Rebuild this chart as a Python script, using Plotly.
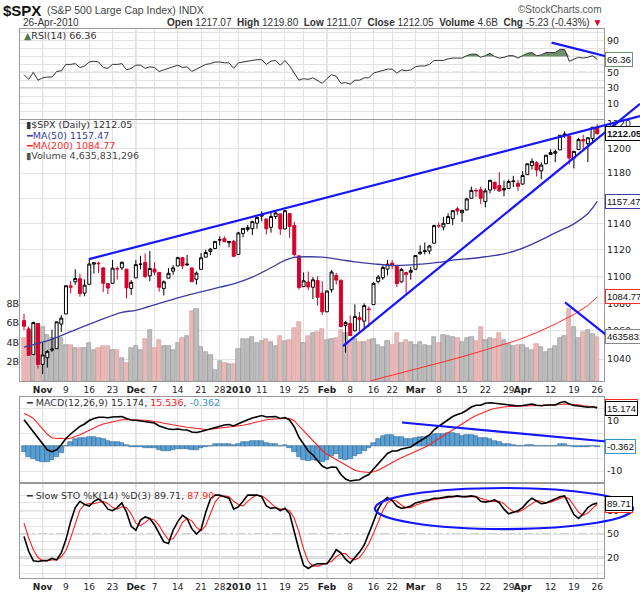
import numpy as np
import pandas as pd
import plotly.graph_objects as go

# $SPX daily, 27-Oct-2009 .. 26-Apr-2010
HOLIDAYS = ["2009-11-26", "2009-12-25", "2010-01-01", "2010-01-18", "2010-02-15", "2010-04-02"]
DATES = [d for d in pd.bdate_range("2009-10-27", "2010-04-26") if d.strftime("%Y-%m-%d") not in HOLIDAYS]
PRIOR_CLOSE = 1066.95

OPEN = [1067.54, 1061.51, 1043.19, 1065.41,
        1036.18, 1040.92, 1047.14, 1047.30, 1064.95, 1072.31, 1091.86, 1096.04, 1098.31, 1087.59,
        1094.13, 1109.22, 1109.44, 1106.44, 1094.66, 1094.86, 1105.83, 1106.49, 1105.47, 1091.07,
        1098.89, 1109.03, 1110.59, 1100.43, 1105.52, 1103.04, 1091.07, 1098.69, 1103.96, 1107.84, 1114.11,
        1108.61, 1106.36, 1097.86, 1105.31, 1114.51, 1118.84, 1121.08, 1127.53, 1128.55, 1125.53, 1126.60,
        1116.56, 1132.66, 1135.71, 1136.27, 1140.52, 1145.96, 1143.81, 1137.31, 1145.68, 1147.72,
        1136.03, 1147.95, 1138.68, 1115.49, 1092.40, 1095.80, 1091.94, 1096.93, 1087.61,
        1073.89, 1090.05, 1100.67, 1097.25, 1064.12, 1065.51, 1060.06, 1069.68, 1067.10, 1075.95,
        1079.13, 1096.14, 1099.03, 1105.49, 1110.00, 1107.49, 1095.89, 1101.24, 1103.10,
        1105.36, 1117.01, 1119.36, 1119.12, 1125.12, 1138.40, 1137.56, 1140.22, 1143.96, 1151.71, 1148.53,
        1150.83, 1159.94, 1166.13, 1166.68, 1157.25, 1166.47, 1172.70, 1170.03, 1167.58, 1167.71, 1173.75, 1171.75,
        1171.23, 1178.71, 1186.01, 1188.23, 1181.75, 1187.47, 1194.94, 1195.94, 1198.69, 1210.77, 1210.17,
        1192.06, 1199.04, 1207.16, 1203.79, 1207.87, 1217.07]
HIGH = [1072.48, 1063.26, 1066.83, 1065.41,
        1052.18, 1046.36, 1061.00, 1066.65, 1071.48, 1093.19, 1096.42, 1105.37, 1101.97, 1097.79,
        1113.69, 1110.52, 1111.10, 1106.44, 1094.66, 1112.38, 1107.56, 1111.18, 1105.47, 1097.24,
        1112.28, 1115.58, 1117.28, 1119.13, 1110.72, 1103.04, 1097.04, 1106.25, 1108.50, 1114.76, 1114.11,
        1116.21, 1106.36, 1103.74, 1117.68, 1120.27, 1121.58, 1126.48, 1130.38, 1130.38, 1126.42, 1127.64,
        1133.87, 1136.63, 1139.19, 1142.46, 1145.39, 1149.74, 1143.81, 1148.40, 1150.41, 1147.77,
        1150.45, 1147.95, 1141.58, 1115.49, 1102.97, 1103.69, 1099.51, 1100.22, 1096.45,
        1089.38, 1104.73, 1102.72, 1097.25, 1067.13, 1071.20, 1079.28, 1073.67, 1080.04, 1077.81,
        1095.67, 1101.03, 1108.24, 1112.42, 1112.29, 1108.58, 1106.42, 1103.50, 1107.24,
        1116.11, 1123.46, 1125.64, 1123.73, 1139.38, 1141.05, 1145.37, 1148.26, 1150.24, 1153.41, 1150.98,
        1160.28, 1169.20, 1167.77, 1169.20, 1167.82, 1174.72, 1173.04, 1180.69, 1173.93, 1174.85, 1177.83, 1174.56,
        1181.43, 1187.73, 1191.80, 1189.60, 1188.55, 1194.66, 1199.20, 1199.04, 1210.65, 1213.92, 1210.17,
        1197.87, 1208.58, 1210.99, 1208.84, 1217.28, 1219.80]
LOW = [1060.62, 1042.19, 1043.19, 1033.38,
       1029.38, 1033.94, 1045.15, 1047.30, 1059.32, 1072.31, 1087.40, 1093.81, 1084.90, 1085.33,
       1094.13, 1102.19, 1102.70, 1088.40, 1086.81, 1094.86, 1097.63, 1104.75, 1083.74, 1086.25,
       1098.89, 1105.29, 1098.74, 1096.52, 1100.83, 1088.61, 1085.89, 1098.69, 1101.34, 1107.84, 1105.35,
       1107.96, 1095.88, 1093.88, 1105.31, 1114.51, 1116.00, 1121.08, 1123.51, 1126.08, 1121.94, 1114.81,
       1116.56, 1129.66, 1133.95, 1131.32, 1136.22, 1142.02, 1131.77, 1133.18, 1143.80, 1131.39,
       1135.77, 1129.25, 1114.84, 1090.18, 1092.40, 1089.86, 1083.11, 1078.46, 1071.59,
       1073.89, 1087.96, 1093.97, 1062.78, 1044.50, 1056.51, 1060.06, 1059.34, 1060.59, 1062.97,
       1079.13, 1094.72, 1097.48, 1100.80, 1105.38, 1092.18, 1095.50, 1086.02, 1097.56,
       1105.36, 1116.51, 1116.58, 1116.66, 1125.12, 1136.77, 1134.90, 1140.09, 1138.99, 1146.97, 1141.45,
       1150.35, 1159.94, 1161.16, 1155.33, 1152.88, 1163.83, 1166.01, 1165.09, 1161.48, 1167.71, 1168.92, 1165.77,
       1170.69, 1178.71, 1182.77, 1177.25, 1175.12, 1187.15, 1194.71, 1188.82, 1198.69, 1208.50, 1186.77,
       1183.68, 1199.04, 1198.85, 1188.92, 1205.10, 1211.07]
CLOSE = [1063.41, 1042.63, 1066.11, 1036.19,
         1042.88, 1045.41, 1046.50, 1066.63, 1069.30, 1093.08, 1093.01, 1098.51, 1087.24, 1093.48,
         1109.30, 1110.32, 1109.80, 1094.90, 1091.38, 1106.24, 1105.65, 1110.63, 1091.49, 1095.63,
         1108.86, 1109.24, 1099.92, 1105.98, 1103.25, 1091.94, 1095.95, 1102.35, 1106.41, 1114.11, 1107.93,
         1109.18, 1096.08, 1102.47, 1114.05, 1118.02, 1120.59, 1126.48, 1127.78, 1126.20, 1126.42, 1115.10,
         1132.99, 1136.52, 1137.14, 1141.69, 1144.98, 1146.98, 1136.22, 1145.68, 1148.46, 1136.03,
         1150.23, 1138.04, 1116.48, 1091.76, 1096.78, 1092.17, 1097.50, 1084.53, 1073.87,
         1089.19, 1103.32, 1097.28, 1063.11, 1066.19, 1056.74, 1070.52, 1068.13, 1078.47, 1075.51,
         1094.87, 1099.51, 1106.75, 1109.17, 1108.01, 1094.60, 1105.24, 1102.94, 1104.49,
         1115.71, 1118.31, 1118.79, 1122.97, 1138.70, 1138.50, 1140.45, 1145.61, 1150.24, 1149.99, 1150.51,
         1159.46, 1166.21, 1165.83, 1159.90, 1165.81, 1174.17, 1167.72, 1165.73, 1166.59, 1173.22, 1173.27, 1169.43,
         1178.10, 1187.44, 1189.44, 1182.45, 1186.44, 1194.37, 1196.48, 1197.30, 1210.65, 1211.67, 1192.13,
         1197.52, 1207.17, 1205.94, 1208.67, 1217.28, 1212.05]
VOLUME_B = [4.4, 5.2, 5.0, 5.9,
            5.6, 4.8, 4.5, 4.4, 4.4, 3.7, 3.7, 3.4, 3.4, 3.4, 3.9, 3.2, 3.4, 3.6, 3.6, 3.2, 3.2, 2.4, 1.9, 3.4,
            3.6, 3.2, 4.3, 5.3, 3.4, 4.2, 3.6, 3.6, 3.2, 3.9, 4.5, 4.7, 7.2, 7.4, 3.5, 3.0, 2.7, 1.1, 2.1, 1.9, 1.8, 1.8,
            3.3, 4.3, 4.3, 4.6, 3.9, 4.1, 4.3, 4.0, 3.6, 4.7, 4.1, 4.2, 5.5, 6.1, 3.9, 4.7, 5.0, 5.1, 5.4,
            4.2, 4.3, 4.4, 5.3, 5.0, 4.0, 4.3, 4.0, 4.0, 4.2, 4.3, 3.7, 3.5, 4.1, 3.7, 5.0, 3.9, 4.2, 4.0,
            3.7, 4.0, 3.7, 3.6, 4.6, 3.9, 4.8, 4.7, 4.6, 4.4, 4.0, 4.5, 4.6, 4.1, 5.6, 4.2, 4.4, 4.3, 5.0, 4.2,
            3.8, 3.6, 3.7,
            3.7, 3.4, 3.2, 3.8, 3.5, 3.0, 3.3, 3.6, 4.5, 4.7, 7.4, 5.6, 4.4, 5.1, 5.3, 4.9, 4.6]
VOLUME_LAST = 4635831296

MA50_X = [0, 6, 10, 16, 21, 24, 29, 32, 35, 38, 42, 45, 49, 53, 56, 58, 61, 64, 68, 71, 75, 78,
          82, 85, 89, 92, 96, 99, 103, 106, 110, 114, 118, 121, 123]
MA50_Y = [1048.5, 1054.0, 1059.5, 1067.5, 1073.5, 1075.0, 1080.0, 1083.0, 1086.0, 1088.5, 1092.0,
          1094.5, 1099.5, 1106.5, 1112.0, 1114.3, 1114.8, 1114.5, 1112.5, 1111.0, 1109.5, 1108.5,
          1108.5, 1109.2, 1110.5, 1112.2, 1113.5, 1114.8, 1117.0, 1120.0, 1126.0, 1133.0, 1140.0,
          1148.0, 1157.47]
MA200_X = [70, 75, 80, 85, 90, 95, 100, 106, 110, 114, 118, 121, 123]
MA200_Y = [1019.5, 1025.3, 1029.5, 1033.5, 1038.0, 1042.5, 1047.5, 1053.5, 1058.8, 1065.0,
           1072.0, 1078.5, 1084.77]

RSI = [47, 41, 50, 40, 43, 44, 44, 51, 52, 60, 60, 61, 56, 58, 63, 64, 63, 56, 55, 60, 60, 61, 53, 55,
       59, 59, 55, 57, 56, 51, 53, 55, 56, 59, 56, 57, 51, 54, 58, 60, 61, 63, 63, 62, 62, 55,
       62, 63, 64, 65, 66, 66, 60, 64, 65, 59, 65, 58, 49, 40, 42, 41, 43, 39, 36,
       42, 47, 45, 36, 37, 35, 40, 40, 43, 43, 49, 51, 53, 54, 54, 49, 53, 52, 53,
       57, 58, 58, 60, 65, 65, 65, 67, 68, 68, 68, 71, 73, 73, 69, 71, 74, 70, 68, 69, 71, 71, 68,
       71, 74, 75, 71, 72, 75, 75, 75, 79, 79, 64, 66, 69, 68, 69, 71, 66.36]

MACD = [10.5, 8.0, 6.0, 3.0, 0.5, -1.5, -2.3, -1.5, 0.5, 3.0, 4.8, 6.5, 7.8, 8.8, 10.2, 11.0, 11.5,
        11.5, 11.3, 11.6, 11.8, 11.8, 11.0, 10.4, 10.3, 10.0, 9.6, 9.5, 9.2, 8.0, 7.3, 6.8, 6.6, 6.8,
        6.5, 6.4, 5.6, 5.4, 5.8, 6.3, 6.9, 7.6, 8.1, 8.4, 8.6, 8.0, 8.9, 9.8, 10.5, 11.2, 11.8, 12.2,
        11.6, 11.6, 11.8, 11.0, 11.4, 10.4, 7.6, 3.5, 0.6, -2.0, -3.6, -5.8, -8.0, -9.0, -8.4, -8.5,
        -11.4, -13.2, -14.0, -13.7, -13.5, -12.3, -11.4, -9.2, -7.0, -4.8, -3.0, -2.0, -2.0, -1.2,
        -0.9, -0.4, 0.9, 2.2, 3.2, 4.4, 6.5, 7.9, 9.2, 10.5, 11.8, 12.6, 13.2, 14.3, 15.6, 16.3, 16.3,
        17.1, 17.3, 17.1, 16.9, 16.6, 16.6, 16.5, 16.0, 16.2, 16.5, 16.8, 16.3, 16.1, 16.4, 16.5,
        16.4, 17.3, 17.8, 16.8, 16.2, 16.0, 15.7, 15.5, 15.7, 15.174]
SIGNAL = [13.0, 12.2, 11.0, 9.0, 6.8, 4.7, 3.3, 3.0, 3.1, 2.8, 3.1, 3.7, 4.5, 5.4, 6.4, 7.3, 8.1,
          8.8, 9.3, 9.8, 10.2, 10.5, 10.6, 10.6, 10.5, 10.4, 10.3, 10.1, 9.9, 9.5, 9.1, 8.7, 8.3, 8.0,
          7.8, 7.5, 7.2, 6.9, 6.7, 6.6, 6.7, 6.9, 7.1, 7.4, 7.6, 7.7, 7.9, 8.3, 8.7, 9.2, 9.7, 10.2,
          10.5, 10.7, 10.9, 11.0, 11.1, 11.0, 10.1, 8.0, 6.0, 4.0, 2.0, 0.2, -1.8, -3.3, -4.4, -5.2,
          -6.4, -7.6, -8.8, -9.7, -10.2, -10.4, -10.6, -10.3, -9.7, -8.7, -7.6, -6.5, -5.6, -4.7,
          -3.9, -3.2, -2.4, -1.4, -0.5, 0.5, 1.7, 2.9, 4.2, 5.4, 6.7, 7.9, 9.0, 10.0, 11.2, 12.2, 13.0,
          13.8, 14.5, 15.0, 15.4, 15.6, 15.8, 15.9, 16.0, 16.0, 16.1, 16.2, 16.2, 16.2, 16.3, 16.3,
          16.3, 16.6, 16.8, 16.8, 16.7, 16.5, 16.1, 15.8, 15.7, 15.536]
HIST = [-2.5, -4.2, -5.0, -6.0, -6.3, -6.2, -5.6, -4.5, -2.6, 0.2, 1.7, 2.8, 3.3, 3.4, 3.8, 3.7, 3.4,
        2.7, 2.0, 1.8, 1.6, 1.3, 0.4, -0.2, -0.2, -0.4, -0.7, -0.6, -0.7, -1.5, -1.8, -1.9, -1.7, -1.2,
        -1.3, -1.1, -1.6, -1.5, -0.9, -0.3, 0.2, 0.7, 1.0, 1.0, 1.0, 0.3, 1.0, 1.5, 1.8, 2.0, 2.1, 2.0,
        1.1, 0.9, 0.9, 0.0, 0.3, -0.6, -2.5, -4.5, -5.4, -6.0, -5.6, -6.0, -6.2, -5.7, -4.0, -3.3,
        -5.0, -5.6, -5.2, -4.0, -3.3, -1.9, -0.8, 1.1, 2.7, 3.9, 4.6, 4.5, 3.6, 3.5, 3.0, 2.8, 3.3,
        3.6, 3.7, 3.9, 4.8, 5.0, 5.0, 5.1, 5.1, 4.7, 4.2, 4.3, 4.4, 4.1, 3.3, 3.3, 2.8, 2.1, 1.5, 1.0,
        0.8, 0.6, 0.0, 0.2, 0.4, 0.6, 0.1, -0.1, 0.1, 0.2, 0.1, 0.7, 1.0, 0.0, -0.5, -0.5, -0.4, -0.3,
        0.0, -0.362]

STO_K = [47, 28, 16, 15, 16, 16, 19, 17, 26, 43, 66, 84, 92, 88, 86, 92, 95, 90, 82, 80, 84, 90, 78, 60,
         55, 68, 72, 70, 62, 50, 40, 38, 55, 66, 74, 70, 57, 50, 56, 78, 95, 100, 100, 98, 96, 82,
         85, 92, 100, 100, 100, 98, 86, 83, 84, 80, 83, 76, 52, 30, 10, 6, 10, 12, 12,
         12, 20, 30, 26, 18, 13, 20, 27, 36, 50, 66, 82, 92, 97, 93, 86, 83, 84, 86,
         90, 92, 93, 94, 96, 96, 97, 98, 98, 99, 98, 98, 99, 98, 92, 91, 92, 94, 90, 82, 76, 78, 80,
         84, 91, 96, 92, 89, 90, 93, 96, 98, 99, 88, 75, 70, 76, 84, 88, 89.71]
STO_D = [64, 45, 30, 20, 16, 16, 17, 17, 21, 29, 45, 64, 81, 88, 89, 89, 91, 92, 89, 84, 82, 85, 84, 76,
         64, 61, 65, 70, 68, 61, 51, 43, 44, 53, 65, 70, 67, 59, 54, 61, 76, 91, 98, 99, 98, 92,
         88, 86, 92, 97, 100, 99, 95, 89, 84, 82, 82, 80, 70, 53, 31, 15, 9, 9, 11,
         12, 15, 21, 25, 25, 19, 17, 20, 28, 38, 51, 66, 80, 90, 94, 92, 87, 84, 84,
         87, 89, 92, 93, 94, 95, 96, 97, 98, 98, 98, 98, 98, 98, 96, 94, 92, 92, 92, 89, 83, 79, 78,
         81, 85, 90, 93, 92, 90, 91, 93, 96, 98, 95, 87, 78, 74, 77, 83, 87.90]

TICK_DATES = ["2009-11-02", "2009-11-09", "2009-11-16", "2009-11-23", "2009-12-01", "2009-12-07",
              "2009-12-14", "2009-12-21", "2009-12-28", "2010-01-04", "2010-01-11", "2010-01-19",
              "2010-01-25", "2010-02-01", "2010-02-08", "2010-02-16", "2010-02-22", "2010-03-01",
              "2010-03-08", "2010-03-15", "2010-03-22", "2010-03-29", "2010-04-01", "2010-04-12",
              "2010-04-19", "2010-04-26"]
TICK_TEXT = ["Nov", "9", "16", "23", "Dec", "7", "14", "21", "28", "2010", "11", "19", "25", "Feb",
             "8", "16", "22", "Mar", "8", "15", "22", "29", "Apr", "12", "19", "26"]
MONTH_LABELS = {"Nov", "Dec", "2010", "Feb", "Mar", "Apr"}

# hand-drawn trendlines: (x0 idx, v0, x1 idx, v1)
PRICE_LINES = [(13.95, 1113.0, 132.2, 1226.6), (68.45, 1049.2, 132.2, 1236.8)]
VOLUME_LINE = (116.1, 8.13, 126.4, 4.2)
RSI_LINE = (113.2, 87.5, 129.6, 63.4)
MACD_LINE = (81.1, 9.4, 126.2, 1.6)
STO_ELLIPSE = (75.3, 56.5, 130.7, 109.1)

# ---- layout geometry
W, H = 640, 592
ML, MR, MT, MB = 20, 36, 29, 14
PW, PH = W - ML - MR, H - MT - MB
PANELS = {"rsi": (29, 119), "main": (120, 381), "macd": (397, 482), "sto": (484, 578)}
XR = [-0.86, 124.46]
RSI_R = [-9.1, 104.8]
MACD_R = [-14.4, 19.6]
STO_R = [-6.2, 114.2]
PRICE_R = [1024.6, 1223.3]
VOL_R = [0, 27.0]

RED = "#d8002a"
BLUE = "#1515ff"
FONT = "DejaVu Sans"


def dom(name):
    top, bot = PANELS[name]
    return [(H - MB - bot) / PH, (H - MB - top) / PH]


def px(x):
    return (x - ML) / PW


def py(y):
    return (H - MB - y) / PH


def fx(i):
    return (i - XR[0]) / (XR[1] - XR[0])


def flin(v, r):
    return (v - r[0]) / (r[1] - r[0])


def flog(p):
    lo, hi = np.log10(PRICE_R)
    return (np.log10(p) - lo) / (hi - lo)


x = np.arange(len(CLOSE))
date_str = [d.strftime("%Y-%m-%d") for d in DATES]
tick_pos = [date_str.index(d) for d in TICK_DATES]
tick_txt = [f"<b>{t}</b>" if t in MONTH_LABELS else t for t in TICK_TEXT]
month_pos = [p for p, t in zip(tick_pos, TICK_TEXT) if t in MONTH_LABELS]

op, hi, lo, cl = map(np.array, (OPEN, HIGH, LOW, CLOSE))
prev = np.r_[PRIOR_CLOSE, cl[:-1]]
up = cl >= prev

fig = go.Figure()

# RSI panel
fig.add_trace(go.Scatter(x=x, y=[70] * len(x), mode="lines", line=dict(width=0),
                         xaxis="x", yaxis="y", hoverinfo="skip"))
fig.add_trace(go.Scatter(x=x, y=np.maximum(RSI, 70), mode="lines", line=dict(width=0),
                         fill="tonexty", fillcolor="#6e906e", xaxis="x", yaxis="y", hoverinfo="skip"))
fig.add_trace(go.Scatter(x=x, y=RSI, mode="lines", line=dict(color="#333333", width=1),
                         xaxis="x", yaxis="y", hoverinfo="skip"))

# volume (base axis y2) under the price (overlay y5)
vcol = np.where(up, "#bdbdbd", "#ebb7b7")
vline = np.where(up, "#8f8f8f", "#d49a9a")
fig.add_trace(go.Bar(x=x, y=VOLUME_B, width=0.92, marker=dict(color=vcol, line=dict(color=vline, width=0.6)),
                     xaxis="x2", yaxis="y2", hoverinfo="skip"))

fig.add_trace(go.Scatter(x=MA200_X, y=MA200_Y, mode="lines", line=dict(color="#ff2a2a", width=1),
                         xaxis="x2", yaxis="y5", hoverinfo="skip"))
fig.add_trace(go.Scatter(x=MA50_X, y=MA50_Y, mode="lines", line=dict(color="#3c3ca0", width=1.3, shape="spline"),
                         xaxis="x2", yaxis="y5", hoverinfo="skip"))

for mask, col in [(up, "#000000"), (~up, RED)]:
    fig.add_trace(go.Candlestick(
        x=x[mask], open=op[mask], high=hi[mask], low=lo[mask], close=cl[mask],
        increasing=dict(line=dict(color=col, width=1), fillcolor="white"),
        decreasing=dict(line=dict(color=col, width=1), fillcolor=col),
        whiskerwidth=0, xaxis="x2", yaxis="y5", hoverinfo="skip"))

# MACD panel
fig.add_trace(go.Bar(x=x, y=HIST, width=1.0, marker=dict(color="#5b9ed2", line=dict(color="#2f6a98", width=0.6)),
                     xaxis="x3", yaxis="y3", hoverinfo="skip"))
fig.add_trace(go.Scatter(x=x, y=SIGNAL, mode="lines", line=dict(color="#ff2020", width=1.1),
                         xaxis="x3", yaxis="y3", hoverinfo="skip"))
fig.add_trace(go.Scatter(x=x, y=MACD, mode="lines", line=dict(color="#000000", width=1.6),
                         xaxis="x3", yaxis="y3", hoverinfo="skip"))

# Slow stochastic panel
fig.add_trace(go.Scatter(x=x, y=STO_D, mode="lines", line=dict(color="#ff2020", width=1.1),
                         xaxis="x4", yaxis="y4", hoverinfo="skip"))
fig.add_trace(go.Scatter(x=x, y=STO_K, mode="lines", line=dict(color="#000000", width=1.6),
                         xaxis="x4", yaxis="y4", hoverinfo="skip"))

tickfont = dict(family=FONT, size=9.5, color="#222222")
xbase = dict(range=XR, tickvals=tick_pos, ticktext=tick_txt, showgrid=True, gridcolor="#e3e3e3",
             zeroline=False, showline=True, linecolor="#999999", mirror=True, ticks="",
             tickfont=dict(family=FONT, size=9, color="#222222"), tickangle=0, automargin=False)
ybase = dict(side="right", showgrid=True, gridcolor="#e3e3e3", zeroline=False, showline=True,
             linecolor="#999999", mirror=True, ticks="", tickfont=tickfont, automargin=False)

layout = dict(
    width=W, height=H, margin=dict(l=ML, r=MR, t=MT, b=MB, autoexpand=False),
    paper_bgcolor="white", plot_bgcolor="white", showlegend=False,
    boxgap=0.2, boxgroupgap=0.2, bargap=0,
    xaxis=dict(xbase, anchor="y", showticklabels=False),
    xaxis2=dict(xbase, anchor="y2", showticklabels=True, rangeslider=dict(visible=False)),
    xaxis3=dict(xbase, anchor="y3", showticklabels=False),
    xaxis4=dict(xbase, anchor="y4", showticklabels=True),
    yaxis=dict(ybase, domain=dom("rsi"), anchor="x", range=RSI_R,
               tickvals=list(range(0, 101, 10)),
               ticktext=["", "10", "", "30", "", "50", "", "70", "", "90", ""]),
    yaxis2=dict(domain=dom("main"), anchor="x2", range=VOL_R, side="left", showgrid=False,
                zeroline=False, showline=False, ticks="", tickfont=tickfont, automargin=False,
                tickvals=[2, 4, 6, 8], ticktext=["2B", "4B", "6B", "8B"]),
    yaxis5=dict(ybase, overlaying="y2", anchor="x2", type="log", range=list(np.log10(PRICE_R)),
                tickvals=list(range(1040, 1221, 20)), ticktext=[str(v) for v in range(1040, 1221, 20)]),
    yaxis3=dict(ybase, domain=dom("macd"), anchor="x3", range=MACD_R,
                tickvals=[-10, -5, 0, 5, 10, 15], ticktext=["-10", "", "", "", "10", ""]),
    yaxis4=dict(ybase, domain=dom("sto"), anchor="x4", range=STO_R,
                tickvals=list(range(0, 101, 10)),
                ticktext=["", "", "20", "", "", "50", "", "", "80", "", ""]),
)
fig.update_layout(**layout)

shapes = []
# month separators
for ax_y in ["y", "y2", "y3", "y4"]:
    xa = {"y": "x", "y2": "x2", "y3": "x3", "y4": "x4"}[ax_y]
    for m in month_pos:
        shapes.append(dict(type="line", xref=xa, yref=f"{ax_y} domain", x0=m, x1=m, y0=0, y1=1,
                           line=dict(color="#bdbdbd", width=1), layer="below"))
# reference levels
for lvl, dash in [(70, "solid"), (30, "solid"), (50, "dashdot")]:
    shapes.append(dict(type="line", xref="x domain", yref="y", x0=0, x1=1, y0=lvl, y1=lvl,
                       line=dict(color="#8a8a8a", width=1, dash=dash), layer="below"))
for lvl, dash, wd in [(80, "solid", 1), (20, "solid", 2), (50, "dashdot", 1)]:
    shapes.append(dict(type="line", xref="x4 domain", yref="y4", x0=0, x1=1, y0=lvl, y1=lvl,
                       line=dict(color="#8a8a8a" if wd == 1 else "#b5b5b5", width=wd, dash=dash), layer="below"))

# hand-drawn blue marks
bl = dict(color=BLUE, width=2.2)
for x0, v0, x1, v1 in PRICE_LINES:
    shapes.append(dict(type="line", xref="x2 domain", yref="y2 domain",
                       x0=fx(x0), y0=flog(v0), x1=fx(x1), y1=flog(v1), line=bl))
x0, v0, x1, v1 = VOLUME_LINE
shapes.append(dict(type="line", xref="x2 domain", yref="y2 domain",
                   x0=fx(x0), y0=flin(v0, VOL_R), x1=fx(x1), y1=flin(v1, VOL_R), line=bl))
x0, v0, x1, v1 = RSI_LINE
shapes.append(dict(type="line", xref="x domain", yref="y domain",
                   x0=fx(x0), y0=flin(v0, RSI_R), x1=fx(x1), y1=flin(v1, RSI_R), line=bl))
x0, v0, x1, v1 = MACD_LINE
shapes.append(dict(type="line", xref="x3 domain", yref="y3 domain",
                   x0=fx(x0), y0=flin(v0, MACD_R), x1=fx(x1), y1=flin(v1, MACD_R), line=bl))
x0, v0, x1, v1 = STO_ELLIPSE
shapes.append(dict(type="circle", xref="x4 domain", yref="y4 domain",
                   x0=fx(x0), y0=flin(v0, STO_R), x1=fx(x1), y1=flin(v1, STO_R), line=bl))
fig.update_layout(shapes=shapes)

ann = []


def text(xp, yp, s, size=9.5, color="#333333", anchor="left", family=FONT):
    ann.append(dict(xref="paper", yref="paper", x=px(xp), y=py(yp), text=s, showarrow=False,
                    xanchor=anchor, yanchor="middle", font=dict(family=family, size=size, color=color)))


# header
text(1, 10, "<b>$SPX</b>", size=15, color="#111111", family="Liberation Sans")
text(45, 10, "(S&amp;P 500 Large Cap Index) INDX", size=10.5, color="#444444", family="Liberation Sans")
text(604, 9, "©StockCharts.com", size=10, color="#555555", anchor="right", family="Liberation Sans")
text(21, 23, "26-Apr-2010", size=10, color="#333333", family="Liberation Sans")
chg = cl[-1] - cl[-2]
hdr = (f"<b>Open</b> {op[-1]:.2f}  <b>High</b> {hi[-1]:.2f}  <b>Low</b> {lo[-1]:.2f}  "
       f"<b>Close</b> {cl[-1]:.2f}  <b>Volume</b> {VOLUME_LAST / 1e9:.1f}B  "
       f"<b>Chg</b> {chg:.2f} ({chg / cl[-2] * 100:.2f}%) <span style='color:{RED}'>▼</span>")
text(604, 23, hdr, size=10, color="#333333", anchor="right", family="Liberation Sans")

# panel legends
text(22, 35, f"<span style='color:#4f7a4f'>▲</span>RSI(14) {RSI[-1]:.2f}", size=9.5)
text(24, 125, f"<span style='color:#333'>▮</span>$SPX (Daily) {cl[-1]:.2f}", size=9.5)
text(24, 135, f"<span style='color:#3c3ca0'>━MA(50) {MA50_Y[-1]:.2f}</span>", size=9.5)
text(24, 145, f"<span style='color:#ff2a2a'>━MA(200) {MA200_Y[-1]:.2f}</span>", size=9.5)
text(24, 155, f"<span style='color:#555'>▮</span>Volume {VOLUME_LAST:,}", size=9.5, color="#444444")
text(24, 403, f"━ MACD(12,26,9) {MACD[-1]:.3f}, <span style='color:#ff2020'>{SIGNAL[-1]:.3f}</span>, "
              f"<span style='color:#3399cc'>{HIST[-1]:.3f}</span>", size=9.5)
text(24, 495, f"━ Slow STO %K(14) %D(3) {STO_K[-1]:.2f}, <span style='color:#ff2020'>{STO_D[-1]:.2f}</span>",
     size=9.5)


def tag(yref, yval, s, border, bold=False):
    ann.append(dict(xref="paper", yref=yref, x=1.0, y=yval, xanchor="left", yanchor="middle", xshift=1,
                    text=f"<b>{s}</b>" if bold else s, showarrow=False, bgcolor="white",
                    bordercolor=border, borderwidth=1, borderpad=1,
                    font=dict(family="Liberation Sans", size=9.5, color="#111111")))


tag("y", RSI[-1], f"{RSI[-1]:.2f}", "#6e906e")
tag("y2", VOLUME_B[-1], f"{VOLUME_LAST}", "#888888")
tag("y5", np.log10(MA200_Y[-1]), f"{MA200_Y[-1]:.2f}", "#ff2a2a")
tag("y5", np.log10(MA50_Y[-1]), f"{MA50_Y[-1]:.2f}", "#3c3ca0")
tag("y5", np.log10(cl[-1]), f"{cl[-1]:.2f}", "#000000", bold=True)
tag("y3", SIGNAL[-1] + 0.4, f"{SIGNAL[-1]:.3f}", "#ff2020")
tag("y3", MACD[-1], f"{MACD[-1]:.3f}", "#000000")
tag("y3", HIST[-1], f"{HIST[-1]:.3f}", "#3399cc")
tag("y4", STO_D[-1] - 1.5, f"{STO_D[-1]:.2f}", "#ff2020")
tag("y4", STO_K[-1], f"{STO_K[-1]:.2f}", "#000000")

fig.update_layout(annotations=ann)
# the page body has a default margin; drop it so the chart sits at the window's corner
fig.write_html("out.html", config={"displayModeBar": False},
               post_script="document.body.style.margin='0px';")
